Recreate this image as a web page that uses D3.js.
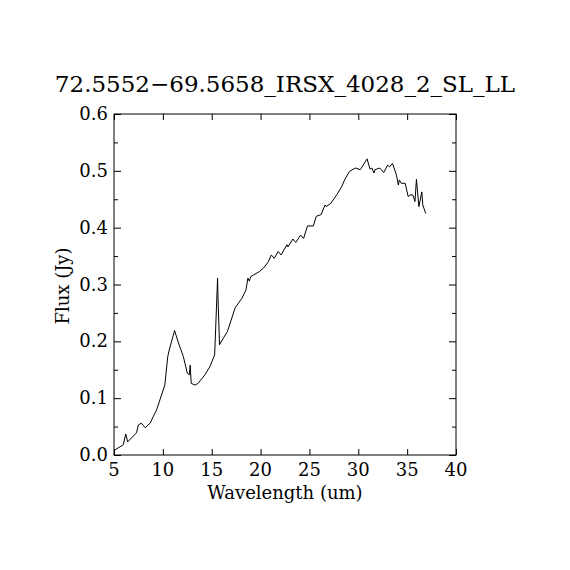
<!DOCTYPE html>
<html>
<head>
<meta charset="utf-8">
<script src="https://cdn.jsdelivr.net/npm/d3@7"></script>
<style>
  body { margin: 0; background: #fff; }
  svg text { font-family: "DejaVu Serif", serif; fill: #000; }
</style>
</head>
<body>
<script>
// spectrum
var wavelength = [5.1, 5.95, 6.2, 6.4, 7.3, 7.5, 7.8, 8.2, 8.7, 9.0, 9.35, 10.2, 10.5, 10.7, 11.2,
  11.6, 12.1, 12.5, 12.7, 12.8, 12.9, 13.3, 13.6, 14.3, 14.8, 15.3, 15.4, 15.6, 15.65, 15.8,
  16.2, 16.6, 17.4, 18.1, 18.5, 18.7, 18.85, 19.0, 19.3, 19.9, 20.3, 20.8, 21.1, 21.4, 21.8,
  22.1, 22.7, 22.8, 23.3, 23.6, 24.1, 24.4, 24.8, 25.4, 25.7, 26.2, 26.6, 26.7, 27.2, 27.8,
  28.3, 28.6, 29.1, 29.7, 30.2, 30.9, 31.2, 31.4, 31.6, 31.7, 32.2, 32.6, 33.0, 33.2, 33.5,
  33.9, 34.1, 34.2, 34.4, 34.8, 35.1, 35.4, 35.6, 35.8, 35.95, 36.2, 36.5, 36.6, 36.9];
var flux = [0.009, 0.018, 0.037, 0.023, 0.039, 0.053, 0.056, 0.048, 0.056, 0.067, 0.079, 0.123, 0.173, 0.188, 0.219,
  0.197, 0.173, 0.144, 0.141, 0.158, 0.126, 0.123, 0.126, 0.141, 0.155, 0.176, 0.22, 0.311, 0.273, 0.194,
  0.206, 0.217, 0.259, 0.276, 0.29, 0.311, 0.306, 0.314, 0.317, 0.323, 0.329, 0.34, 0.352, 0.346, 0.358,
  0.352, 0.37, 0.366, 0.38, 0.374, 0.387, 0.381, 0.403, 0.403, 0.42, 0.423, 0.44, 0.437, 0.443, 0.458,
  0.472, 0.484, 0.499, 0.505, 0.502, 0.521, 0.503, 0.505, 0.496, 0.502, 0.505, 0.497, 0.51, 0.507, 0.513,
  0.493, 0.475, 0.484, 0.478, 0.478, 0.455, 0.458, 0.457, 0.446, 0.485, 0.437, 0.463, 0.44, 0.425];

var xTicks = [5, 10, 15, 20, 25, 30, 35, 40];
var yTicks = [0, 0.1, 0.2, 0.3, 0.4, 0.5, 0.6];
var yMinor = [0.05, 0.15, 0.25, 0.35, 0.45, 0.55];

var title = '72.5552\u221269.5658_IRSX_4028_2_SL_LL';

var frame = {left: 114, right: 456, top: 114, bottom: 455};

var svg = d3.select('body').append('svg').attr('width', 570).attr('height', 570);

var x = d3.scaleLinear().domain([5, 40]).range([frame.left, frame.right]);
var y = d3.scaleLinear().domain([0, 0.6]).range([frame.bottom, frame.top]);

svg.append('rect').attr('x', frame.left).attr('y', frame.top)
  .attr('width', frame.right - frame.left).attr('height', frame.bottom - frame.top)
  .attr('fill', 'none').attr('stroke', '#000').attr('stroke-width', 1);

function tickAxis(axis, tr) {
  var g = svg.append('g').attr('transform', tr).call(axis);
  g.select('.domain').remove();
  g.selectAll('.tick line').attr('stroke', '#000');
  return g;
}

// inward ticks on all four sides
tickAxis(d3.axisBottom(x).tickValues(xTicks).tickSize(-6).tickFormat(''), 'translate(0,' + frame.bottom + ')');
tickAxis(d3.axisTop(x).tickValues(xTicks).tickSize(-6).tickFormat(''), 'translate(0,' + frame.top + ')');
tickAxis(d3.axisLeft(y).tickValues(yTicks).tickSize(-7).tickFormat(''), 'translate(' + frame.left + ',0)');
tickAxis(d3.axisRight(y).tickValues(yTicks).tickSize(-7).tickFormat(''), 'translate(' + frame.right + ',0)');
tickAxis(d3.axisLeft(y).tickValues(yMinor).tickSize(-4).tickFormat(''), 'translate(' + frame.left + ',0)');
tickAxis(d3.axisRight(y).tickValues(yMinor).tickSize(-4).tickFormat(''), 'translate(' + frame.right + ',0)');

svg.selectAll('.xlab').data(xTicks).enter().append('text')
  .attr('x', function(d) { return x(d); }).attr('y', frame.bottom + 21)
  .attr('text-anchor', 'middle').attr('font-size', 18)
  .text(function(d) { return d; });

svg.selectAll('.ylab').data(yTicks).enter().append('text')
  .attr('x', frame.left - 6).attr('y', function(d) { return y(d) + 6; })
  .attr('text-anchor', 'end').attr('font-size', 18)
  .text(function(d) { return d.toFixed(1); });

svg.append('text').attr('x', 285).attr('y', 499)
  .attr('text-anchor', 'middle').attr('font-size', 18)
  .text('Wavelength (um)');

svg.append('text').attr('transform', 'translate(69,286) rotate(-90)')
  .attr('text-anchor', 'middle').attr('font-size', 18)
  .text('Flux (Jy)');

svg.append('text').attr('x', 285).attr('y', 92)
  .attr('text-anchor', 'middle').attr('font-size', 23)
  .text(title);

var line = d3.line()
  .x(function(d) { return x(d[0]); })
  .y(function(d) { return y(d[1]); });

svg.append('path').datum(d3.zip(wavelength, flux))
  .attr('d', line).attr('fill', 'none')
  .attr('stroke', '#000').attr('stroke-width', 1);
</script>
</body>
</html>
